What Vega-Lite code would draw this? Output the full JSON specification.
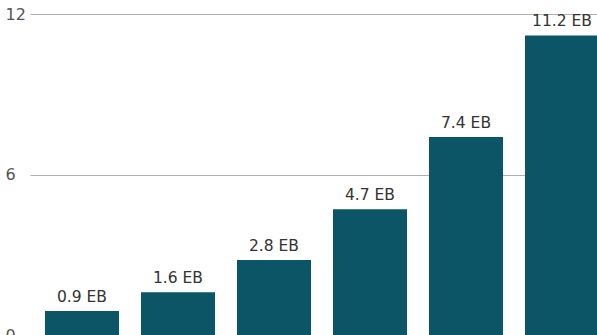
{
  "$schema": "https://vega.github.io/schema/vega-lite/v6.json",
  "autosize": "none",
  "width": 567,
  "height": 321,
  "padding": {"left": 30, "top": 14, "right": 0, "bottom": 0},
  "background": "white",
  "config": {"view": {"stroke": null}},
  "data": {"values": [
    {"item": "A", "value": 0.9, "label": "0.9 EB"},
    {"item": "B", "value": 1.6, "label": "1.6 EB"},
    {"item": "C", "value": 2.8, "label": "2.8 EB"},
    {"item": "D", "value": 4.7, "label": "4.7 EB"},
    {"item": "E", "value": 7.4, "label": "7.4 EB"},
    {"item": "F", "value": 11.2, "label": "11.2 EB"}
  ]},
  "encoding": {
    "x": {"field": "item", "type": "nominal", "axis": null,
          "scale": {"range": [0, 584], "paddingInner": 0.229, "paddingOuter": 0.156}},
    "y": {"field": "value", "type": "quantitative",
          "scale": {"domain": [0, 12], "nice": false},
          "axis": {"values": [0, 6, 12], "title": null, "domain": false, "ticks": false,
                   "gridColor": "#b0b0b0", "gridWidth": 1.2,
                   "labelAlign": "left", "labelPadding": 25, "labelBaseline": "middle",
                   "labelFont": "DejaVu Sans", "labelFontSize": 16, "labelColor": "#555555"}}
  },
  "layer": [
    {"mark": {"type": "bar", "color": "#0b5567"}},
    {"mark": {"type": "text", "baseline": "bottom", "dy": -6, "font": "DejaVu Sans", "fontSize": 15.5, "color": "#333333"},
     "encoding": {"text": {"field": "label"}}}
  ]
}
